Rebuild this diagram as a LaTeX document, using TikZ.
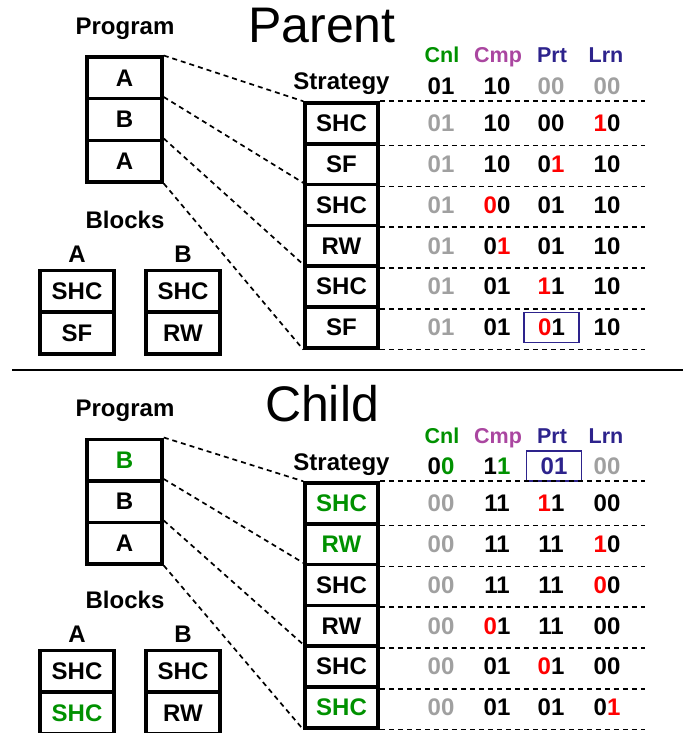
\documentclass[tikz,border=0pt]{standalone}
\usepackage{fontspec}
\setmainfont{Liberation Sans}
\definecolor{cnlgreen}{RGB}{0,145,0}
\definecolor{cmppurple}{RGB}{170,70,160}
\definecolor{prtblue}{RGB}{45,35,140}
\definecolor{valgray}{RGB}{160,160,160}
\begin{document}
\begin{tikzpicture}[x=1pt,y=-1pt]
  \tikzstyle{bigtitle}=[font=\fontsize{50}{50}\selectfont,anchor=base,inner sep=0pt]
  \tikzstyle{heading}=[font=\fontsize{24}{24}\selectfont\bfseries,anchor=base,inner sep=0pt]
  \tikzstyle{colhead}=[font=\fontsize{21.5}{21.5}\selectfont\bfseries,anchor=base,inner sep=0pt]
  \tikzstyle{cell}=[draw,line width=3.5pt,minimum width=74pt,minimum height=41.5pt,inner sep=0pt,font=\fontsize{24}{24}\selectfont\bfseries]
  \tikzstyle{strat}=[cell,minimum width=73pt,minimum height=40.8pt]
  \tikzstyle{val}=[font=\fontsize{24}{24}\selectfont\bfseries,inner sep=0pt]
  \tikzstyle{old}=[val,text=valgray]
  \tikzstyle{marked}=[val,draw=prtblue,line width=1.3pt,minimum width=55pt,minimum height=30pt]
  \tikzstyle{dashlink}=[draw,line width=1.7pt,dash pattern=on 5pt off 4pt]
  \useasboundingbox (0,0) rectangle (689,733);
  % parent
  \node[bigtitle] (parent) at (322,43) {Parent};
  \node[heading] (pprog) at (125,35) {Program};
  \node[cell,minimum width=75pt] (pp1) at (124.5,78)    {A};
  \node[cell,minimum width=75pt] (pp2) at (124.5,119.5) {B};
  \node[cell,minimum width=75pt] (pp3) at (124.5,161)   {A};
  \node[heading] (pblocks) at (125,228) {Blocks};
  \node[heading] (pbla) at (77,262)  {A};
  \node[heading] (pblb) at (183,262) {B};
  \node[cell] (pba1) at (77,291)  {SHC};
  \node[cell] (pba2) at (77,333)  {SF};
  \node[cell] (pbb1) at (183,291) {SHC};
  \node[cell] (pbb2) at (183,333) {RW};
  \node[heading] (pstrat) at (341.5,90) {Strategy};
  \node[strat] (ps1) at (341.5,123.4) {SHC};
  \node[strat] (ps2) at (341.5,164.2) {SF};
  \node[strat] (ps3) at (341.5,205)   {SHC};
  \node[strat] (ps4) at (341.5,245.8) {RW};
  \node[strat] (ps5) at (341.5,286.6) {SHC};
  \node[strat] (ps6) at (341.5,327.4) {SF};
  \node[colhead,text=cnlgreen]  (pcnl) at (442,63) {Cnl};
  \node[colhead,text=cmppurple] (pcmp) at (498,63) {Cmp};
  \node[colhead,text=prtblue]   (pprt) at (552,63) {Prt};
  \node[colhead,text=prtblue]   (plrn) at (606,63) {Lrn};
  \node[val] (pv01) at (441,86) {01};
  \node[val] (pv02) at (497,86) {10};
  \node[old] (pv03) at (551,86) {00};
  \node[old] (pv04) at (607,86) {00};
  \node[old] (pv11) at (441,123.4) {01};
  \node[val] (pv12) at (497,123.4) {10};
  \node[val] (pv13) at (551,123.4) {00};
  \node[val] (pv14) at (607,123.4) {\textcolor{red}{1}0};
  \node[old] (pv21) at (441,164.2) {01};
  \node[val] (pv22) at (497,164.2) {10};
  \node[val] (pv23) at (551,164.2) {0\textcolor{red}{1}};
  \node[val] (pv24) at (607,164.2) {10};
  \node[old] (pv31) at (441,205) {01};
  \node[val] (pv32) at (497,205) {\textcolor{red}{0}0};
  \node[val] (pv33) at (551,205) {01};
  \node[val] (pv34) at (607,205) {10};
  \node[old] (pv41) at (441,245.8) {01};
  \node[val] (pv42) at (497,245.8) {0\textcolor{red}{1}};
  \node[val] (pv43) at (551,245.8) {01};
  \node[val] (pv44) at (607,245.8) {10};
  \node[old] (pv51) at (441,286.6) {01};
  \node[val] (pv52) at (497,286.6) {01};
  \node[val] (pv53) at (551,286.6) {\textcolor{red}{1}1};
  \node[val] (pv54) at (607,286.6) {10};
  \node[old] (pv61) at (441,327.4) {01};
  \node[val] (pv62) at (497,327.4) {01};
  \node[marked] (pv63) at (551.5,327.4) {\textcolor{red}{0}1};
  \node[val] (pv64) at (607,327.4) {10};
  \coordinate (pend) at (645,0);
  \path[dashlink] (pp1.north east) -- (ps1.north west);
  \path[dashlink] (pp2.north east) -- (ps3.north west);
  \path[dashlink] (pp3.north east) -- (ps5.north west);
  \path[dashlink] (pp3.south east) -- (ps6.south west);
  \path[dashlink] (ps1.north east) -- (ps1.north east -| pend);
  \path[dashlink] (ps1.south east) -- (ps1.south east -| pend);
  \path[dashlink] (ps2.south east) -- (ps2.south east -| pend);
  \path[dashlink] (ps3.south east) -- (ps3.south east -| pend);
  \path[dashlink] (ps4.south east) -- (ps4.south east -| pend);
  \path[dashlink] (ps5.south east) -- (ps5.south east -| pend);
  \path[dashlink] (ps6.south east) -- (ps6.south east -| pend);
  % separator
  \coordinate (sepl) at (12,370);
  \coordinate (sepr) at (683,370);
  \draw[line width=2pt] (sepl) -- (sepr);
  % child
  \node[bigtitle] (child) at (322,421) {Child};
  \node[heading] (cprog) at (125,416) {Program};
  \node[cell,minimum width=75pt,text=cnlgreen] (cp1) at (124.5,460) {B};
  \node[cell,minimum width=75pt] (cp2) at (124.5,501.5) {B};
  \node[cell,minimum width=75pt] (cp3) at (124.5,543)   {A};
  \node[heading] (cblocks) at (125,608) {Blocks};
  \node[heading] (cbla) at (77,642)  {A};
  \node[heading] (cblb) at (183,642) {B};
  \node[cell] (cba1) at (77,671)  {SHC};
  \node[cell,text=cnlgreen] (cba2) at (77,713) {SHC};
  \node[cell] (cbb1) at (183,671) {SHC};
  \node[cell] (cbb2) at (183,713) {RW};
  \node[heading] (cstrat) at (341.5,470) {Strategy};
  \node[strat,text=cnlgreen] (cs1) at (341.5,503.4) {SHC};
  \node[strat,text=cnlgreen] (cs2) at (341.5,544.2) {RW};
  \node[strat] (cs3) at (341.5,585)   {SHC};
  \node[strat] (cs4) at (341.5,625.8) {RW};
  \node[strat] (cs5) at (341.5,666.6) {SHC};
  \node[strat,text=cnlgreen] (cs6) at (341.5,707.4) {SHC};
  \node[colhead,text=cnlgreen]  (ccnl) at (442,443) {Cnl};
  \node[colhead,text=cmppurple] (ccmp) at (498,443) {Cmp};
  \node[colhead,text=prtblue]   (cprt) at (552,443) {Prt};
  \node[colhead,text=prtblue]   (clrn) at (606,443) {Lrn};
  \node[val] (cv01) at (441,466) {0\textcolor{cnlgreen}{0}};
  \node[val] (cv02) at (497,466) {1\textcolor{cnlgreen}{1}};
  \node[marked,text=prtblue] (cv03) at (554,466) {01};
  \node[old] (cv04) at (607,466) {00};
  \node[old] (cv11) at (441,503.4) {00};
  \node[val] (cv12) at (497,503.4) {11};
  \node[val] (cv13) at (551,503.4) {\textcolor{red}{1}1};
  \node[val] (cv14) at (607,503.4) {00};
  \node[old] (cv21) at (441,544.2) {00};
  \node[val] (cv22) at (497,544.2) {11};
  \node[val] (cv23) at (551,544.2) {11};
  \node[val] (cv24) at (607,544.2) {\textcolor{red}{1}0};
  \node[old] (cv31) at (441,585) {00};
  \node[val] (cv32) at (497,585) {11};
  \node[val] (cv33) at (551,585) {11};
  \node[val] (cv34) at (607,585) {\textcolor{red}{0}0};
  \node[old] (cv41) at (441,625.8) {00};
  \node[val] (cv42) at (497,625.8) {\textcolor{red}{0}1};
  \node[val] (cv43) at (551,625.8) {11};
  \node[val] (cv44) at (607,625.8) {00};
  \node[old] (cv51) at (441,666.6) {00};
  \node[val] (cv52) at (497,666.6) {01};
  \node[val] (cv53) at (551,666.6) {\textcolor{red}{0}1};
  \node[val] (cv54) at (607,666.6) {00};
  \node[old] (cv61) at (441,707.4) {00};
  \node[val] (cv62) at (497,707.4) {01};
  \node[val] (cv63) at (551,707.4) {01};
  \node[val] (cv64) at (607,707.4) {0\textcolor{red}{1}};
  \coordinate (cend) at (645,0);
  \path[dashlink] (cp1.north east) -- (cs1.north west);
  \path[dashlink] (cp2.north east) -- (cs3.north west);
  \path[dashlink] (cp3.north east) -- (cs5.north west);
  \path[dashlink] (cp3.south east) -- (cs6.south west);
  \path[dashlink] (cs1.north east) -- (cs1.north east -| cend);
  \path[dashlink] (cs1.south east) -- (cs1.south east -| cend);
  \path[dashlink] (cs2.south east) -- (cs2.south east -| cend);
  \path[dashlink] (cs3.south east) -- (cs3.south east -| cend);
  \path[dashlink] (cs4.south east) -- (cs4.south east -| cend);
  \path[dashlink] (cs5.south east) -- (cs5.south east -| cend);
  \path[dashlink] (cs6.south east) -- (cs6.south east -| cend);
\end{tikzpicture}
\end{document}
